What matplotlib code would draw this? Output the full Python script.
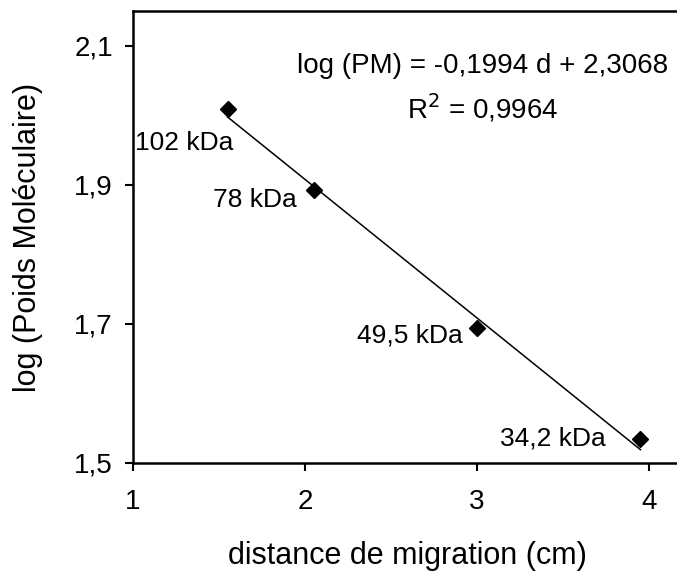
import numpy as np
import matplotlib
matplotlib.use("Agg")
import matplotlib.pyplot as plt

plt.rcParams["font.family"] = ["Liberation Sans", "DejaVu Sans"]

# distances de migration (cm) et poids moleculaires (kDa)
dist = [1.55, 2.05, 3.0, 3.95]
pm_kda = [102, 78, 49.5, 34.2]
labels = ["102 kDa", "78 kDa", "49,5 kDa", "34,2 kDa"]
label_x = [1.30, 1.71, 2.61, 3.44]
label_y = [1.960, 1.878, 1.683, 1.535]

slope = -0.1994
intercept = 2.3068
r2 = 0.9964

xticks = [1, 2, 3, 4]
yticks = [1.5, 1.7, 1.9, 2.1]


if (__name__ == "__main__"):

    logpm = np.log10(pm_kda)

    fig = plt.figure(figsize=(6.77, 5.72), dpi=100)
    ax = fig.add_axes([0.1965, 0.1906, 0.8384, 0.7898])

    xfit = np.array([dist[0], dist[-1]])
    ax.plot(xfit, slope * xfit + intercept, color="black", lw=1.1)
    ax.plot(dist, logpm, "D", color="black", ms=8.5)

    for lx, ly, txt in zip(label_x, label_y, labels):
        ax.text(lx, ly, txt, ha="center", va="center", fontsize=19)

    ax.text(3.035, 2.071, "log (PM) = %s d + %s" % (
        ("%.4f" % slope).replace(".", ","),
        ("%.4f" % intercept).replace(".", ",")),
        ha="center", va="center", fontsize=20)
    ax.text(3.035, 2.011, "R$^2$ = %s" % ("%.4f" % r2).replace(".", ","),
            ha="center", va="center", fontsize=20)

    ax.set_xlim(1, 4.3)
    ax.set_ylim(1.5, 2.15)
    ax.set_xticks(xticks)
    ax.set_xticklabels([str(t) for t in xticks])
    ax.set_yticks(yticks)
    ax.set_yticklabels([("%.1f" % t).replace(".", ",") for t in yticks])

    for s in ["left", "bottom", "top"]:
        ax.spines[s].set_linewidth(1.8)
    ax.spines["right"].set_visible(False)

    ax.tick_params(direction="out", length=6, width=1.5, labelsize=20)
    ax.tick_params(axis="x", pad=13)
    ax.tick_params(axis="y", pad=8.5)

    ax.set_xlabel("distance de migration (cm)", fontsize=22)
    ax.xaxis.label.set_va("baseline")
    ax.xaxis.set_label_coords(0.483, -0.2236)
    ax.set_ylabel("log (Poids Moléculaire)", fontsize=22)
    ax.yaxis.set_label_coords(-0.1586, 0.5)

    fig.savefig("out.png", dpi=100)
